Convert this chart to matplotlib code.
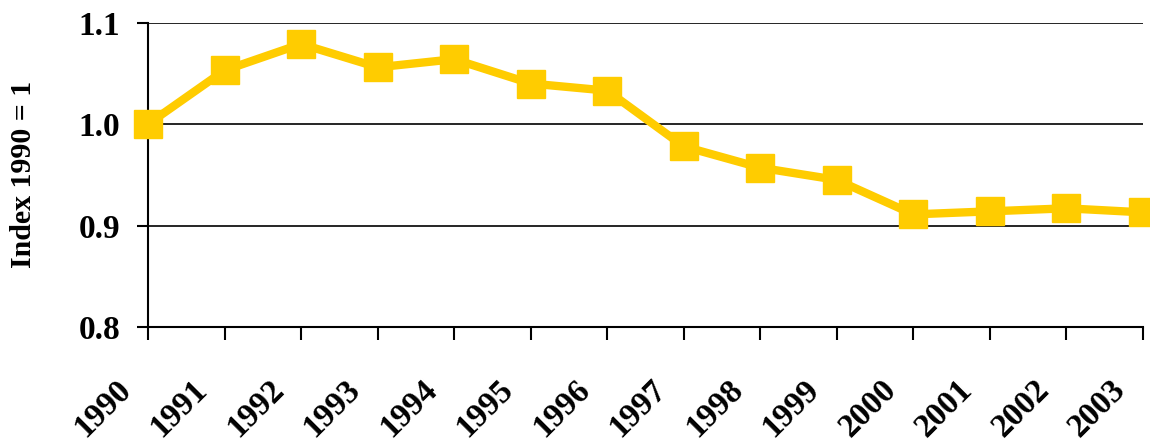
import matplotlib.pyplot as plt
from matplotlib.transforms import ScaledTranslation

years = ['1990', '1991', '1992', '1993', '1994', '1995', '1996',
         '1997', '1998', '1999', '2000', '2001', '2002', '2003']
index_values = [1.000, 1.053, 1.079, 1.056, 1.064, 1.040, 1.033,
                0.978, 0.957, 0.945, 0.911, 0.914, 0.917, 0.913]

plt.rcParams['font.family'] = ['Liberation Serif', 'DejaVu Serif']
plt.rcParams['font.weight'] = 'bold'

fig = plt.figure(figsize=(11.5, 4.43), dpi=100)
ax = fig.add_axes([0.1287, 0.2619, 0.8652, 0.6869])

x = list(range(len(years)))
ax.plot(x, index_values, color='#FFCC00', linewidth=6, marker='s',
        markersize=19.5, clip_on=False, zorder=3)

ax.set_xlim(0, len(years) - 1)
ax.set_ylim(0.8, 1.1)
ax.set_yticks([0.8, 0.9, 1.0, 1.1])
ax.set_yticklabels(['0.8', '0.9', '1.0', '1.1'])
ax.set_xticks(x)
ax.set_xticklabels(years, rotation=45, ha='right', va='center',
                   rotation_mode='anchor')

ax.yaxis.grid(True, color='black', linewidth=1.2)
ax.set_axisbelow(True)
for side in ['top', 'right']:
    ax.spines[side].set_visible(False)
ax.spines['left'].set_linewidth(1.5)
ax.spines['bottom'].set_linewidth(1.5)

ax.tick_params(axis='y', length=8, width=1.5, labelsize=24, pad=12)
ax.tick_params(axis='x', length=9.5, width=1.5, labelsize=24, pad=32)

# shift the slanted year labels left of their ticks, like the original
shift = ScaledTranslation(-22 / 100, 0, fig.dpi_scale_trans)
for lab in ax.get_xticklabels():
    lab.set_transform(lab.get_transform() + shift)

ax.set_ylabel('Index 1990 = 1', fontsize=21.5, fontweight='bold')
ax.yaxis.set_label_coords(-0.112, 0.5)

fig.savefig('out.png', dpi=100)
